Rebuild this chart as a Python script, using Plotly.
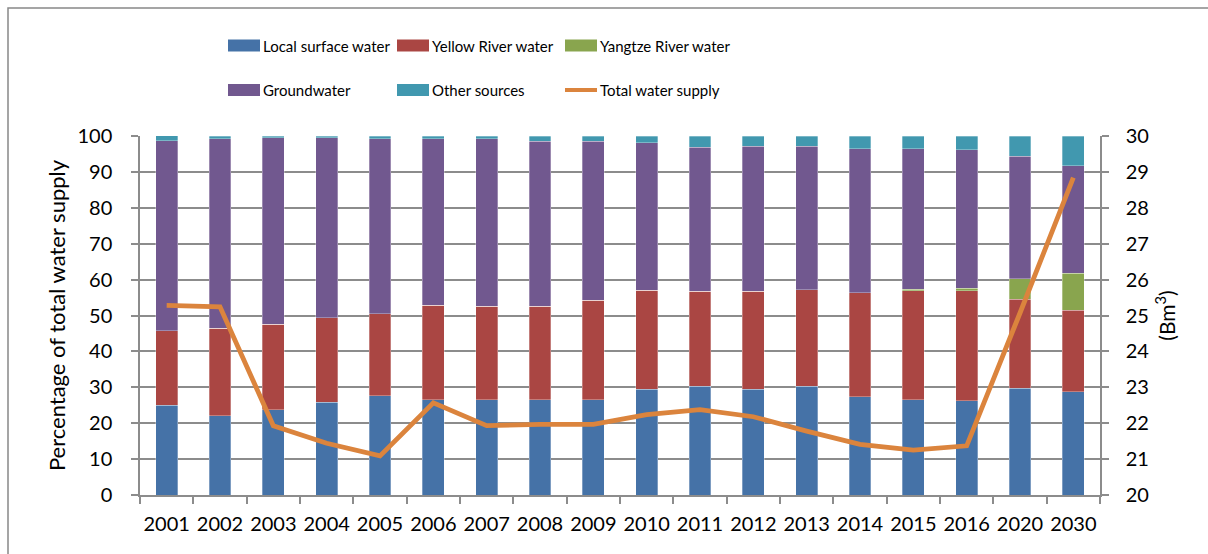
import plotly.graph_objects as go

years = ["2001", "2002", "2003", "2004", "2005", "2006", "2007", "2008", "2009",
         "2010", "2011", "2012", "2013", "2014", "2015", "2016", "2020", "2030"]
local_surface = [25.0, 22.1, 23.8, 25.9, 27.6, 26.6, 26.6, 26.6, 26.6,
                 29.4, 30.3, 29.4, 30.3, 27.3, 26.6, 26.3, 29.7, 28.7]
yellow_river = [20.8, 24.3, 23.7, 23.5, 22.9, 26.2, 26.0, 26.0, 27.7,
                27.7, 26.4, 27.3, 26.9, 29.0, 30.3, 30.6, 24.8, 22.8]
yangtze_river = [0, 0, 0, 0, 0, 0, 0, 0, 0,
                 0, 0, 0, 0, 0, 0.4, 0.7, 5.8, 10.3]
groundwater = [52.9, 52.9, 52.0, 50.1, 48.8, 46.5, 46.7, 46.0, 44.3,
               41.0, 40.1, 40.5, 40.0, 40.2, 39.2, 38.6, 34.1, 29.9]
other_sources = [1.4, 0.7, 0.5, 0.5, 0.7, 0.7, 0.7, 1.4, 1.4,
                 1.9, 3.2, 2.8, 2.8, 3.5, 3.5, 3.8, 5.6, 8.3]
total_supply = [25.28, 25.24, 21.93, 21.44, 21.09, 22.57, 21.93, 21.97, 21.97,
                22.24, 22.38, 22.18, 21.78, 21.41, 21.25, 21.37, 25.07, 28.84]

series_names = ["Local surface water", "Yellow River water", "Yangtze River water",
                "Groundwater", "Other sources"]
series_values = [local_surface, yellow_river, yangtze_river, groundwater, other_sources]
colors = ["#4572A7", "#AA4643", "#89A54E", "#71588F", "#4198AF"]
line_name = "Total water supply"
line_color = "#DB843D"

W, H = 1208, 554
ML, MR, MT, MB = 140, 108, 136, 59
PW, PH = W - ML - MR, H - MT - MB
FONT = "Lato"
GRID = "#8C8C8C"


def px(x):
    return (x - ML) / PW


def py(y):
    return (H - MB - y) / PH


fig = go.Figure()
for name, vals, col in zip(series_names, series_values, colors):
    fig.add_trace(go.Bar(x=years, y=vals, name=name, marker_color=col,
                         marker_line=dict(color="rgba(255,255,255,0.5)", width=0.6),
                         showlegend=False))
fig.add_trace(go.Scatter(x=years, y=total_supply, name=line_name, yaxis="y2",
                         mode="lines", line=dict(color=line_color, width=4.8),
                         showlegend=False))

# manual legend
legend_items = [(n, c, "bar") for n, c in zip(series_names, colors)] + [(line_name, line_color, "line")]
col_x = [228, 397, 565]
row_y = [45.5, 90]
shapes = []
annotations = []
for i, (name, col, kind) in enumerate(legend_items):
    cx = col_x[i % 3]
    cy = row_y[i // 3]
    if kind == "bar":
        shapes.append(dict(type="rect", xref="paper", yref="paper",
                           x0=px(cx), x1=px(cx + 32), y0=py(cy + 6), y1=py(cy - 6),
                           fillcolor=col, line=dict(width=0)))
    else:
        shapes.append(dict(type="line", xref="paper", yref="paper",
                           x0=px(cx), x1=px(cx + 32), y0=py(cy), y1=py(cy),
                           line=dict(color=col, width=4)))
    annotations.append(dict(text=name, xref="paper", yref="paper", x=px(cx + 33), y=py(cy),
                            xanchor="left", yanchor="middle", showarrow=False,
                            font=dict(family=FONT, size=15, color="#000")))

# outer chart frame (left and top edges visible)
shapes.append(dict(type="path", xref="paper", yref="paper",
                   path=f"M {px(8)} {py(700)} L {px(8)} {py(8)} L {px(1400)} {py(8)}",
                   line=dict(color="#888888", width=1.5)))

fig.update_layout(
    width=W, height=H,
    margin=dict(l=ML, r=MR, t=MT, b=MB),
    paper_bgcolor="white", plot_bgcolor="white",
    barmode="stack", bargap=0.59,
    font=dict(family=FONT, size=20, color="#000"),
    shapes=shapes, annotations=annotations,
    xaxis=dict(type="category", showline=True, linecolor=GRID, linewidth=1.5,
               ticks="outside", tickson="boundaries", ticklen=7, tickcolor=GRID, tickwidth=1.5,
               showgrid=False, tickangle=0, ticklabelstandoff=10,
               tickfont=dict(family=FONT, size=20)),
    yaxis=dict(range=[0, 100], dtick=10, showline=True, linecolor=GRID, linewidth=1.5,
               ticks="outside", ticklen=7, tickcolor=GRID, tickwidth=1.5,
               showgrid=True, gridcolor=GRID, gridwidth=1.5, zeroline=False,
               ticklabelstandoff=15, tickfont=dict(family=FONT, size=20),
               title=dict(text="Percentage of total water supply", standoff=6,
                          font=dict(family=FONT, size=22))),
    yaxis2=dict(range=[20, 30], dtick=1, overlaying="y", side="right",
                showline=True, linecolor=GRID, linewidth=1.5,
                ticks="outside", ticklen=7, tickcolor=GRID, tickwidth=1.5,
                showgrid=False, zeroline=False,
                ticklabelstandoff=13, tickfont=dict(family=FONT, size=20),
                title=dict(text="(Bm<sup>3</sup>)", standoff=12,
                           font=dict(family=FONT, size=21))),
)

fig.write_html("out.html", config={"displayModeBar": False},
               post_script="document.body.style.margin='0';document.body.style.overflow='hidden';")
